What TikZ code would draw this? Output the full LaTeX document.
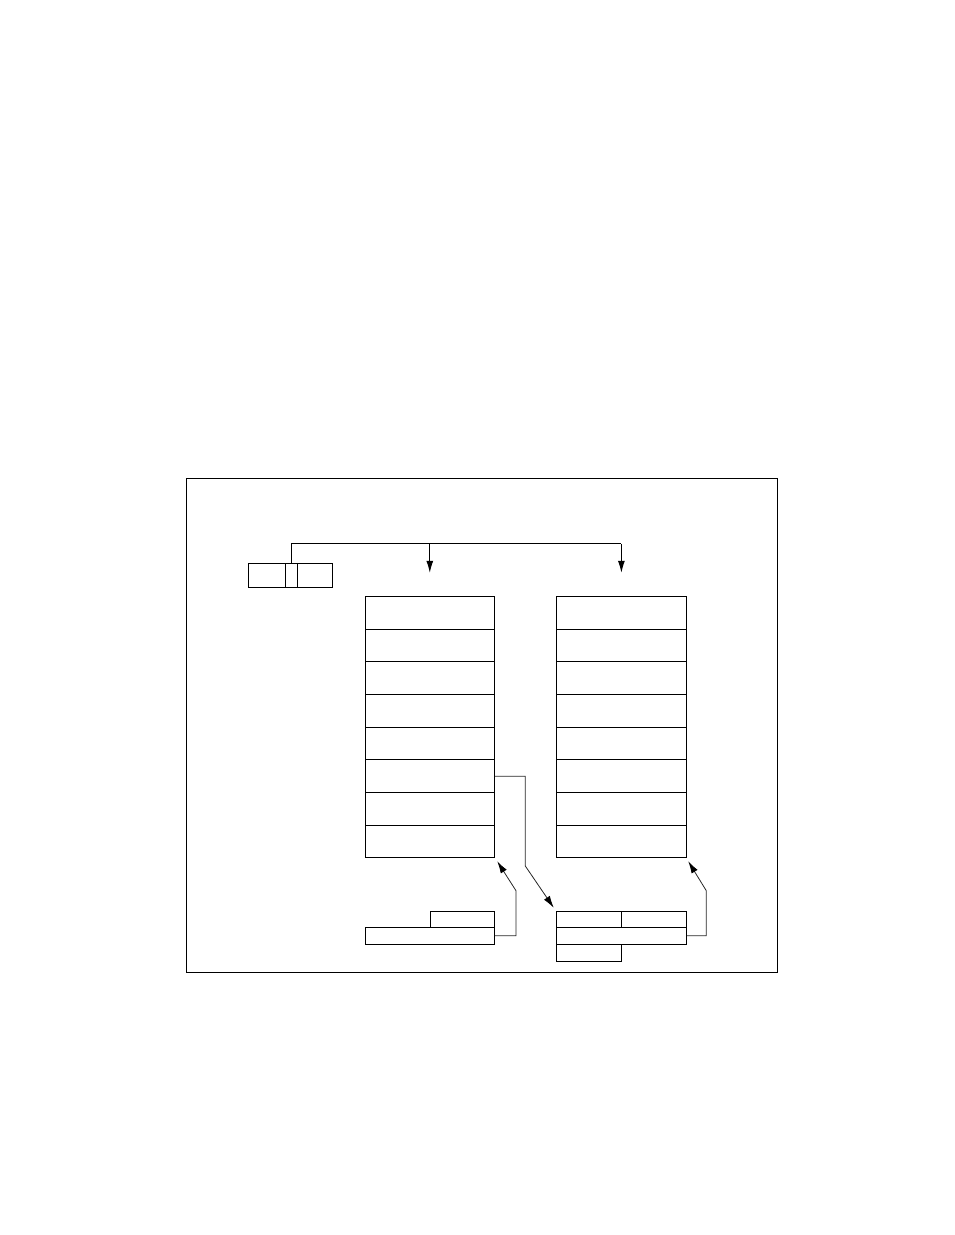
\documentclass[tikz,border=0pt]{standalone}
\usetikzlibrary{arrows.meta,calc}
\begin{document}
\begin{tikzpicture}[x=1pt,y=-1pt,
  cell/.style={draw,line width=1pt,inner sep=0pt,minimum width=129pt,minimum height=32.7pt},
  sbox/.style={draw,line width=1pt,inner sep=0pt},
  wire/.style={line width=1pt},
  thin wire/.style={line width=0.8pt,draw=black!85},
  tip/.style={-{Latex[length=12pt,width=7pt,fill=black,color=black]}}]
\useasboundingbox (0,0) rectangle (954,1235);
\node[draw,line width=1pt,inner sep=0pt,minimum width=591pt,minimum height=494pt] (frame) at (481.5,725) {};
% top small box
\node[sbox,minimum width=37.4pt,minimum height=24pt] (pa) at (267,575.3) {};
\node[sbox,minimum width=11.6pt,minimum height=24pt] (pb) at (291.5,575.3) {};
\node[sbox,minimum width=35.4pt,minimum height=24pt] (pc) at (315,575.3) {};
% columns
\foreach \i in {1,...,8}{
  \node[cell] (L\i) at (429.8,{596.3+32.7*(\i-0.5)}) {};
  \node[cell,minimum width=129.8pt] (R\i) at (621.4,{596.3+32.7*(\i-0.5)}) {};
}
% top connectors
\coordinate (tL) at ($(L1.north)+(0,-23)$);
\coordinate (tR) at ($(R1.north)+(0,-23)$);
\coordinate (hb) at ($(pb.north)+(0,-19)$);
\draw[wire] (pb.north) -- (hb) -- (hb -| tR);
\draw[wire,tip] (hb -| tL) -- (tL);
\draw[wire,tip] (hb -| tR) -- (tR);
% bottom-left boxes
\node[sbox,minimum width=64pt,minimum height=15.6pt] (bl1) at (462.3,919.5) {};
\node[sbox,minimum width=129pt,minimum height=16.7pt] (bl2) at (429.8,935.65) {};
% bottom-right boxes
\node[sbox,minimum width=64.6pt,minimum height=15.6pt] (br1a) at (589,919.5) {};
\node[sbox,minimum width=65pt,minimum height=15.6pt] (br1b) at (653.8,919.5) {};
\node[sbox,minimum width=129.6pt,minimum height=16.7pt] (br2) at (621.5,935.65) {};
\node[sbox,minimum width=64.6pt,minimum height=17pt] (br3) at (589,952.5) {};
% connectors
\coordinate (c1) at (525.3,866);
\draw[thin wire,tip] (L6.east) -- (L6.east -| c1) -- (c1) -- ($(br1a.north west)+(-2.5,-3.5)$);
\coordinate (c2) at (516,890.7);
\draw[thin wire,tip] (bl2.east) -- (bl2.east -| c2) -- (c2) -- ($(L8.south east)+(2.5,3)$);
\coordinate (c3) at (706.3,890.7);
\draw[thin wire,tip] (br2.east) -- (br2.east -| c3) -- (c3) -- ($(R8.south east)+(1.5,3)$);
\end{tikzpicture}
\end{document}
